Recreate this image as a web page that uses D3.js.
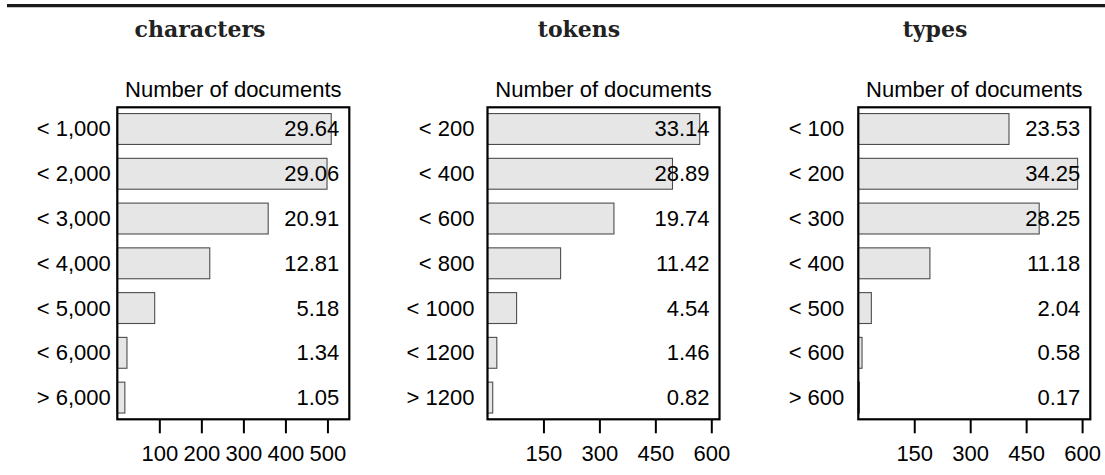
<!DOCTYPE html>
<html>
<head>
<meta charset="utf-8">
<script src="https://cdn.jsdelivr.net/npm/d3@7"></script>
<style>
  body { margin: 0; background: #fff; }
  svg { display: block; }
</style>
</head>
<body>
<svg></svg>
<script>
// panel titles
const panelNames = ["characters", "tokens", "types"];

// bins per panel
const charBins = ["< 1,000", "< 2,000", "< 3,000", "< 4,000", "< 5,000", "< 6,000", "> 6,000"];
const tokenBins = ["< 200", "< 400", "< 600", "< 800", "< 1000", "< 1200", "> 1200"];
const typeBins = ["< 100", "< 200", "< 300", "< 400", "< 500", "< 600", "> 600"];

// number of documents per bin
const charCounts = [509, 499, 359, 220, 89, 23, 18];
const tokenCounts = [569, 496, 339, 196, 78, 25, 14];
const typeCounts = [404, 588, 485, 192, 35, 10, 3];

// percent labels printed at the right
const charPct = ["29.64", "29.06", "20.91", "12.81", "5.18", "1.34", "1.05"];
const tokenPct = ["33.14", "28.89", "19.74", "11.42", "4.54", "1.46", "0.82"];
const typePct = ["23.53", "34.25", "28.25", "11.18", "2.04", "0.58", "0.17"];

// x axis ticks and limits
const charTicks = [100, 200, 300, 400, 500];
const tokenTicks = [150, 300, 450, 600];
const typeTicks = [150, 300, 450, 600];
const xMax = [552, 622, 622];

const svgWidth = 1105, svgHeight = 475;

var svg = d3.select("svg")
    .attr("width", svgWidth)
    .attr("height", svgHeight);

// layout of each panel
var boxLeft = [117.3, 487.5, 858.3];
var boxW = 232;
var boxTop = 107.3, boxBottom = 419.3;
var titleX = [200, 579, 935];
var labelGap = [6.5, 13, 14];

var panels = [
    { bins: charBins, counts: charCounts, pct: charPct, ticks: charTicks },
    { bins: tokenBins, counts: tokenCounts, pct: tokenPct, ticks: tokenTicks },
    { bins: typeBins, counts: typeCounts, pct: typePct, ticks: typeTicks }
];

var sans = "'Liberation Sans', Arial, Helvetica, sans-serif";

//top rule
svg.append("line")
    .attr("x1", 7).attr("x2", svgWidth)
    .attr("y1", 5.6).attr("y2", 5.6)
    .attr("stroke", "#1a1a1a")
    .attr("stroke-width", 3.2);

panels.forEach((p, i) => {
    var left = boxLeft[i], right = left + boxW;

    var x = d3.scaleLinear()
        .domain([0, xMax[i]])
        .range([left, right]);

    var y = d3.scaleBand()
        .domain(p.bins)
        .range([boxTop, boxBottom])
        .paddingInner(0.31)
        .paddingOuter(0.14);

    var g = svg.append("g");

    //title
    g.append("text")
        .attr("x", titleX[i])
        .attr("y", 37)
        .attr("text-anchor", "middle")
        .attr("font-family", "'DejaVu Serif', serif")
        .attr("font-weight", "bold")
        .attr("font-size", 22)
        .attr("fill", "#222")
        .text(panelNames[i]);

    g.append("text")
        .attr("x", (left + right) / 2)
        .attr("y", 96.5)
        .attr("text-anchor", "middle")
        .attr("font-family", sans)
        .attr("font-size", 22)
        .attr("fill", "#000")
        .text("Number of documents");

    //bars
    g.selectAll("rect.bar")
        .data(p.counts)
        .enter()
        .append("rect")
        .attr("class", "bar")
        .attr("x", x(0))
        .attr("y", (d, j) => y(p.bins[j]))
        .attr("width", d => x(d) - x(0))
        .attr("height", y.bandwidth())
        .attr("fill", "#e6e6e6")
        .attr("stroke", "#4d4d4d")
        .attr("stroke-width", 1.1);

    //percent labels
    g.selectAll("text.pct")
        .data(p.pct)
        .enter()
        .append("text")
        .attr("class", "pct")
        .attr("x", right - 10)
        .attr("y", (d, j) => y(p.bins[j]) + y.bandwidth() / 2)
        .attr("dy", "0.34em")
        .attr("text-anchor", "end")
        .attr("font-family", sans)
        .attr("font-size", 22)
        .attr("fill", "#000")
        .text(d => d);

    //y axis labels
    var yAxis = d3.axisLeft(y).tickSize(0).tickPadding(labelGap[i]);
    var ya = g.append("g")
        .attr("transform", "translate(" + left + ",0)")
        .call(yAxis);
    ya.select(".domain").remove();
    ya.selectAll(".tick text")
        .attr("font-family", sans)
        .attr("font-size", 22)
        .attr("fill", "#000")
        .attr("dy", "0.34em");

    //x axis
    var xAxis = d3.axisBottom(x)
        .tickValues(p.ticks)
        .tickSize(14)
        .tickSizeOuter(0)
        .tickPadding(12.5)
        .tickFormat(d3.format("d"));
    var xa = g.append("g")
        .attr("transform", "translate(0," + boxBottom + ")")
        .call(xAxis);
    xa.select(".domain").remove();
    xa.selectAll(".tick line")
        .attr("stroke", "#000")
        .attr("stroke-width", 2);
    xa.selectAll(".tick text")
        .attr("font-family", sans)
        .attr("font-size", 22)
        .attr("fill", "#000");

    //box
    g.append("rect")
        .attr("x", left)
        .attr("y", boxTop)
        .attr("width", boxW)
        .attr("height", boxBottom - boxTop)
        .attr("fill", "none")
        .attr("stroke", "#000")
        .attr("stroke-width", 2.2);
});
</script>
</body>
</html>
